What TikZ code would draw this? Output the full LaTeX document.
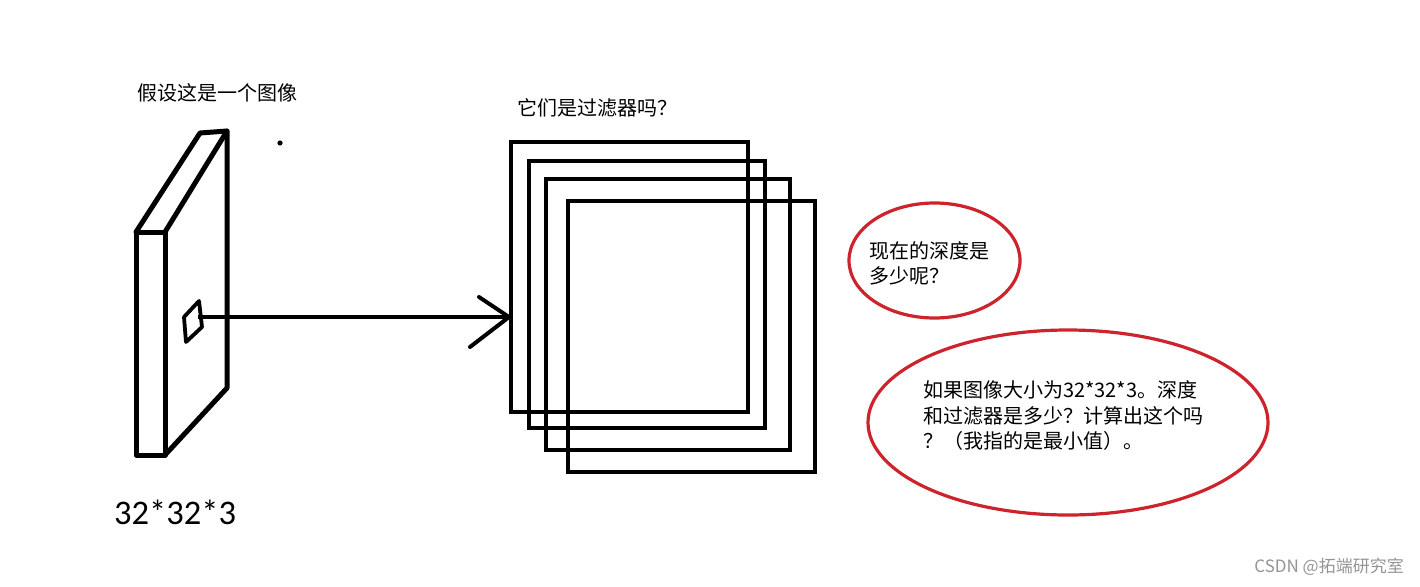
\documentclass[tikz,border=0pt]{standalone}
\usepackage{fontspec}
\newfontfamily\cjkfont{Noto Sans CJK SC}
\newfontfamily\carlitofont{Carlito}
\usetikzlibrary{shapes.geometric}
\definecolor{ellred}{RGB}{205,35,45}
\tikzset{
  ink/.style={line width=5pt, line cap=round, line join=round},
  filterbox/.style={draw, line width=4pt, inner sep=0pt, outer sep=0pt},
  bubble/.style={draw=ellred, line width=3.2pt, ellipse, inner sep=0pt},
  cjktext/.style={font=\cjkfont\fontsize{20}{25.5}\selectfont, inner sep=0pt, align=left, anchor=west},
}
\begin{document}
\begin{tikzpicture}[x=1pt,y=-1pt]
\useasboundingbox (0,0) rectangle (1420,586);
% slab corners
\coordinate (ftl) at (136,232);
\coordinate (ftr) at (165,232);
\coordinate (fbl) at (136,455);
\coordinate (fbr) at (165,455);
\coordinate (btl) at (200,133);
\coordinate (btr) at (227,131);
\coordinate (bbr) at (227,388);
\draw[ink] (ftl) rectangle (fbr);
\draw[ink] (ftl) -- (btl) -- (btr) -- (ftr);
\draw[ink] (btr) -- (bbr) -- (fbr);
% small patch
\coordinate (p1) at (184,317);
\coordinate (p2) at (199,301);
\coordinate (p3) at (202,327);
\coordinate (p4) at (186,342);
\draw[line width=3.8pt, line join=round] (p1) -- (p2) -- (p3) -- (p4) -- cycle;
\coordinate (src) at (198,317);
% dot
\fill (280,143) circle (2.6pt);
% filters
\node[filterbox, minimum width=237pt, minimum height=270pt] (r1) at (629.5,277) {};
\node[filterbox, minimum width=236pt, minimum height=267pt] (r2) at (647,294.5) {};
\node[filterbox, minimum width=244pt, minimum height=271pt] (r3) at (668,314.5) {};
\node[filterbox, minimum width=247pt, minimum height=271pt] (r4) at (691.5,336.5) {};
% arrow
\coordinate (tip) at ([xshift=-2pt]r1.west |- src);
\draw[line width=4pt] (src) -- (tip);
\draw[line width=4pt, line cap=round] (tip) -- ++(-30,-20);
\draw[line width=4pt, line cap=round] (tip) -- ++(-39,30);
% labels
\node[cjktext] (lab1) at (137,93) {假设这是一个图像};
\node[cjktext] (lab2) at (517,108) {它们是过滤器吗？};
\node[font=\carlitofont\fontsize{34.5}{40}\selectfont, inner sep=0pt, anchor=west] (dims) at (114,512) {32*32*3};
% bubbles
\node[bubble, minimum width=171pt, minimum height=115pt] (e1) at (934.5,260.5) {};
\node[bubble, minimum width=400pt, minimum height=185pt] (e2) at (1068,422.5) {};
\node[cjktext] (q1) at (869,263.5) {现在的深度是\\多少呢？};
\node[cjktext] (q2) at (923,416) {如果图像大小为32*32*3。深度\\和过滤器是多少？计算出这个吗\\？（我指的是最小值）。};
% watermark
\node[font=\cjkfont\fontsize{17}{20}\selectfont, text=black!42, inner sep=0pt, anchor=east] (wm) at (1404,567) {CSDN @拓端研究室};
\end{tikzpicture}
\end{document}
